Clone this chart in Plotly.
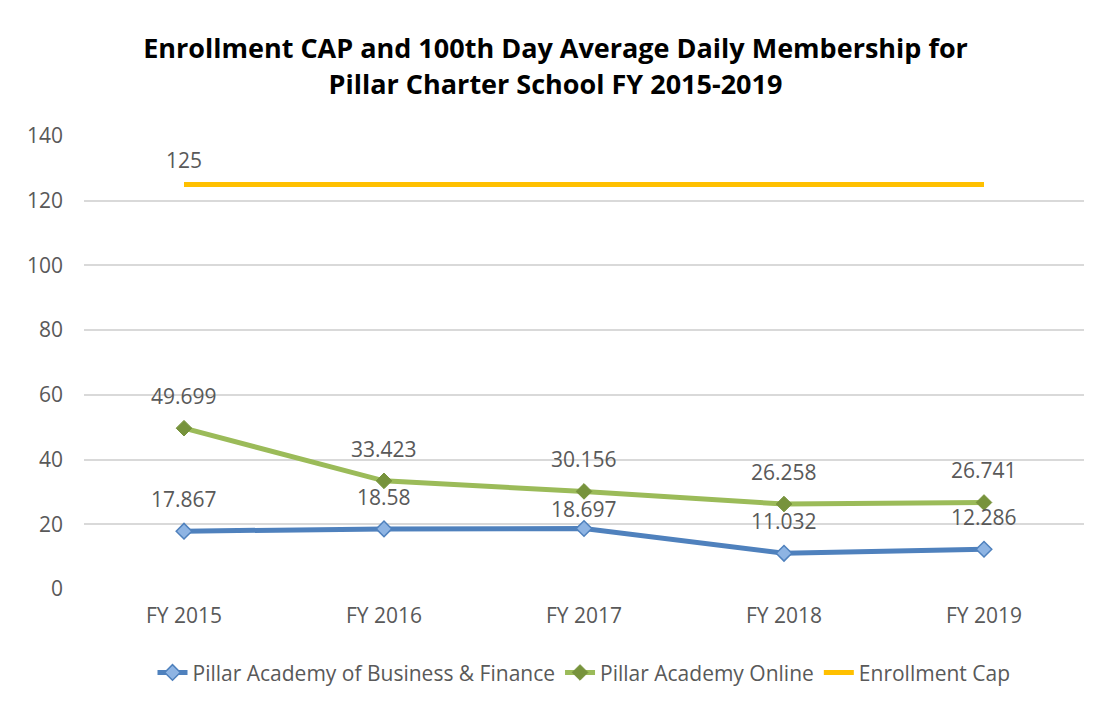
import plotly.graph_objects as go

categories = ["FY 2015", "FY 2016", "FY 2017", "FY 2018", "FY 2019"]
business = [17.867, 18.58, 18.697, 11.032, 12.286]
online = [49.699, 33.423, 30.156, 26.258, 26.741]
cap = [125, 125, 125, 125, 125]
cap_labels = ["125", "", "", "", ""]
y_ticks = [0, 20, 40, 60, 80, 100, 120, 140]

FONT = "Open Sans"
GREY = "#595959"
LABEL_SIZE = 21
# label placement tweak (Excel nudges one label below the green line)
label_shift_override = {("business", "FY 2017"): 20}

fig = go.Figure()
fig.add_trace(go.Scatter(
    x=categories, y=business, name="Pillar Academy of Business & Finance",
    mode="lines+markers",
    line=dict(color="#4f81bd", width=5),
    marker=dict(symbol="diamond", size=12, color="#8eb4e3", line=dict(color="#4f81bd", width=1.5)),
    cliponaxis=False,
))
fig.add_trace(go.Scatter(
    x=categories, y=online, name="Pillar Academy Online",
    mode="lines+markers",
    line=dict(color="#9bbb59", width=5),
    marker=dict(symbol="diamond", size=12, color="#77933c", line=dict(color="#77933c", width=1)),
    cliponaxis=False,
))
fig.add_trace(go.Scatter(
    x=categories, y=cap, name="Enrollment Cap",
    mode="lines",
    line=dict(color="#ffc000", width=5),
    cliponaxis=False,
))

annotations = []
for key, series in (("business", business), ("online", online)):
    for c, v in zip(categories, series):
        shift = label_shift_override.get((key, c), 32)
        annotations.append(dict(x=c, y=v, text=str(v), showarrow=False, yshift=shift,
                                font=dict(size=LABEL_SIZE, color=GREY, family=FONT)))
for c, v, t in zip(categories, cap, cap_labels):
    if t:
        annotations.append(dict(x=c, y=v, text=t, showarrow=False, yshift=25,
                                font=dict(size=LABEL_SIZE, color=GREY, family=FONT)))

fig.update_layout(
    width=1095, height=700,
    margin=dict(l=76, r=19, t=128, b=119),
    paper_bgcolor="white", plot_bgcolor="white",
    title=dict(
        text="<b>Enrollment CAP and 100th Day Average Daily Membership for<br>Pillar Charter School FY 2015-2019</b>",
        x=0.5, xanchor="center", y=0.928, yanchor="middle",
        font=dict(size=27, color="#000000", family=FONT),
    ),
    font=dict(family=FONT, color=GREY),
    showlegend=True,
    legend=dict(orientation="h", x=0.5, xanchor="center", y=-0.185, yanchor="middle",
                font=dict(size=21, color=GREY, family=FONT),
                traceorder="normal"),
    xaxis=dict(type="category", range=[-0.5, 4.5], showgrid=False, showline=False,
               ticks="", tickfont=dict(size=21, color=GREY, family=FONT), ticklabelstandoff=12,
               automargin=False),
    yaxis=dict(range=[0, 140], tickvals=y_ticks, showgrid=True, gridcolor="#d9d9d9",
               gridwidth=1.5, zeroline=False, showline=False, ticks="",
               tickfont=dict(size=21, color=GREY, family=FONT), ticklabelstandoff=20,
               automargin=False),
    annotations=annotations,
)

fig.write_html("out.html")
